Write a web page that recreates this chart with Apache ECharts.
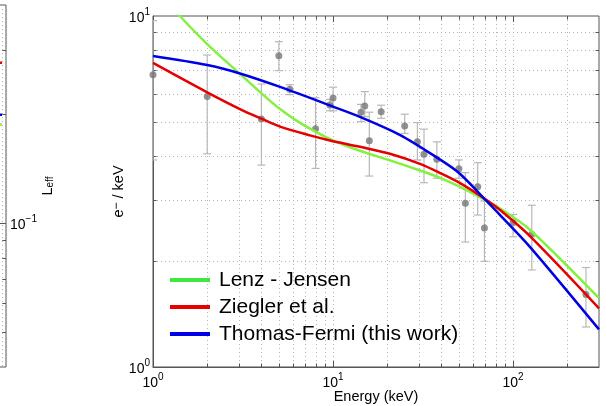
<!DOCTYPE html>
<html><head><meta charset="utf-8">
<script src="https://cdn.jsdelivr.net/npm/echarts@6/dist/echarts.min.js"></script>
<style>html,body{margin:0;padding:0;background:#fff}#c{width:606px;height:406px}</style>
</head><body><div id="c"></div>
<script>
// ---- measured data points (energy in keV, e-/keV) ----
const energyPts = [1, 2, 4, 5, 5.75, 8, 9.6, 10, 14.3, 15, 15.9, 18.5, 25, 29.4, 32, 37.7, 50, 54.3, 63.6, 69.3, 100, 127, 254];
const valuePts  = [6.8, 5.9, 5.09, 7.71, 6.18, 4.77, 5.58, 5.84, 5.32, 5.54, 4.41, 5.34, 4.86, 4.38, 4.04, 3.91, 3.67, 2.93, 3.26, 2.49, 2.58, 2.39, 1.61];
const errLow    = [3.89, 4.05, 3.76, 6.99, 5.97, 3.68, 5.37, 5.37, 5.0, 5.17, 3.50, 5.11, 4.63, 3.89, 3.35, 3.45, 3.45, 2.27, 2.71, 2.0, 2.35, 1.89, 1.30];
const errHigh   = [9.7, 7.74, 6.40, 8.45, 6.37, 5.85, 5.79, 6.27, 5.6, 6.09, 5.32, 5.57, 5.25, 4.97, 4.76, 4.38, 3.89, 3.58, 3.82, 2.97, 2.72, 2.89, 1.92];

// ---- model curves ----
const ljEnergy = [1, 1.41, 2.0, 3.04, 4.03, 5.08, 6.56, 9.62, 14.1, 20.7, 30.4, 39.3, 50.8, 69.9, 84.7, 124, 300];
const ljValue  = [12.2, 10.0, 8.32, 6.84, 6.00, 5.43, 4.96, 4.46, 4.13, 3.88, 3.63, 3.46, 3.26, 2.99, 2.83, 2.46, 1.57];
const zbEnergy = [1, 2.0, 3.04, 4.03, 5.08, 7.45, 9.62, 14.1, 20.7, 30.4, 39.3, 50.8, 69.9, 84.7, 124, 300];
const zbValue  = [7.35, 6.06, 5.43, 5.09, 4.84, 4.57, 4.42, 4.24, 4.05, 3.79, 3.57, 3.34, 3.01, 2.80, 2.36, 1.47];
const tfEnergy = [1, 2.0, 3.04, 5.08, 10, 14.1, 23.6, 37.8, 50.1, 69.9, 84.7, 124, 300];
const tfValue  = [7.69, 7.25, 6.86, 6.28, 5.52, 5.16, 4.58, 3.95, 3.57, 3.00, 2.71, 2.20, 1.28];

// ---- neighbouring (cropped) panel on the left ----
const leftX = [0.9, 1.0];
const leftRed = [0.277, 0.277];
const leftBlue = [0.199, 0.199];
const leftGreen = [0.187, 0.187];

// ---- tick / grid values ----
const xTickVals = [2,3,4,5,6,7,8,9,10,20,30,40,50,60,70,80,90,100,200];
const xMajor = [10, 100];
const yTickVals = [2,3,4,5,6,7,8,9];
const leftYTickVals = [0.05,0.06,0.07,0.08,0.09,0.1,0.2,0.3];
const leftXGrid = [1.0];

const seriesNames = ['Lenz - Jensen', 'Ziegler et al.', 'Thomas-Fermi (this work)'];
const FONT = 'Liberation Sans, Arial, Helvetica, sans-serif';
const GRIDC = '#b4b4b4';

function zip(a, b) { return a.map((v, i) => [v, b[i]]); }
function powLabel(v) {
  const l = Math.log10(v), e = Math.round(l);
  if (Math.abs(l - e) > 1e-6) return '';
  return '{b|10}{s|' + (e < 0 ? '\u2212' + (-e) : e) + '}';
}
const richLab = {
  b: {fontSize: 14, fontFamily: FONT, color: '#000', lineHeight: 18, verticalAlign: 'bottom'},
  s: {fontSize: 10, fontFamily: FONT, color: '#000', verticalAlign: 'top', lineHeight: 10}
};

const chart = echarts.init(document.getElementById('c'), null, {renderer: 'canvas'});
const option = {
  animation: false,
  backgroundColor: '#fff',
  grid: [
    {left: 153, top: 16, right: 7, bottom: 39, show: true, borderColor: '#555', borderWidth: 1, backgroundColor: 'transparent', outerBoundsMode: 'none', containLabel: false},
    {left: -394, top: 5, width: 400, bottom: 39, show: true, borderColor: '#555', borderWidth: 1, backgroundColor: 'transparent', outerBoundsMode: 'none', containLabel: false}
  ],
  legend: {
    orient: 'vertical', left: 170, top: 269, padding: 0,
    itemWidth: 40, itemHeight: 4, itemGap: 5, icon: 'rect',
    textStyle: {fontSize: 21, fontFamily: FONT, color: '#000', lineHeight: 22, padding: [0, 0, 0, 4]},
    data: [
      {name: seriesNames[0], itemStyle: {color: '#3ee83e'}},
      {name: seriesNames[1], itemStyle: {color: '#e60000'}},
      {name: seriesNames[2], itemStyle: {color: '#0000e6'}}
    ],
    selectedMode: false
  },
  xAxis: [
    {type: 'log', logBase: 10, min: 1, max: 300, gridIndex: 0,
     axisLine: {show: true, lineStyle: {color: '#555'}}, axisTick: {show: false}, splitLine: {show: false},
     axisLabel: {formatter: powLabel, margin: 5, rich: richLab, showMaxLabel: false, hideOverlap: false},
     name: 'Energy (keV)', nameLocation: 'middle', nameGap: 22, nameMoveOverlap: false,
     nameTextStyle: {fontSize: 14.5, fontFamily: FONT, color: '#000'}},
    {type: 'value', min: 0, max: 1.01, gridIndex: 1, show: false}
  ],
  yAxis: [
    {type: 'log', logBase: 10, min: 1, max: 10, gridIndex: 0,
     axisLine: {show: true, lineStyle: {color: '#555'}}, axisTick: {show: false}, splitLine: {show: false},
     axisLabel: {formatter: powLabel, margin: 3, rich: richLab, hideOverlap: false},
     name: 'e{s|\u2212} / keV', nameLocation: 'middle', nameGap: 27, nameRotate: 90, nameMoveOverlap: false,
     nameTextStyle: {fontSize: 14.5, fontFamily: FONT, color: '#000',
       rich: {s: {fontSize: 12, fontFamily: FONT, color: '#000', verticalAlign: 'top', lineHeight: 8}}}},
    {type: 'log', logBase: 10, min: 0.04, max: 0.4, gridIndex: 1, position: 'right',
     axisLine: {show: false}, axisTick: {show: false}, splitLine: {show: false},
     axisLabel: {formatter: powLabel, margin: 4, rich: richLab},
     name: 'L{sub|eff}', nameLocation: 'middle', nameGap: 34, nameRotate: 90, nameMoveOverlap: false,
     nameTextStyle: {fontSize: 14.5, fontFamily: FONT, color: '#000',
       rich: {sub: {fontSize: 10, fontFamily: FONT, color: '#000', verticalAlign: 'bottom', lineHeight: 10}}}}
  ],
  series: [
    {type: 'custom', xAxisIndex: 0, yAxisIndex: 0, silent: true, z: 1,
     data: xTickVals.map(v => [v, 1]),
     renderItem: function (params, api) {
       const cs = params.coordSys; const v = api.value(0);
       const p = api.coord([v, 1]); const x = Math.round(p[0]) + 0.5;
       const L = xMajor.indexOf(v) >= 0 ? 6 : 3.5;
       return {type: 'group', children: [
         {type: 'line', shape: {x1: x, y1: cs.y, x2: x, y2: cs.y + cs.height}, style: {stroke: GRIDC, lineWidth: 1, lineDash: [1, 3]}},
         {type: 'line', shape: {x1: x, y1: cs.y + cs.height, x2: x, y2: cs.y + cs.height - L}, style: {stroke: '#555', lineWidth: 1}},
         {type: 'line', shape: {x1: x, y1: cs.y, x2: x, y2: cs.y + L}, style: {stroke: '#555', lineWidth: 1}}
       ]};
     }},
    {type: 'custom', xAxisIndex: 0, yAxisIndex: 0, silent: true, z: 1,
     data: yTickVals.map(v => [1, v]),
     renderItem: function (params, api) {
       const cs = params.coordSys; const v = api.value(1);
       const p = api.coord([1, v]); const y = Math.round(p[1]) + 0.5;
       const L = 3.5;
       return {type: 'group', children: [
         {type: 'line', shape: {x1: cs.x, y1: y, x2: cs.x + cs.width, y2: y}, style: {stroke: GRIDC, lineWidth: 1, lineDash: [1, 3]}},
         {type: 'line', shape: {x1: cs.x, y1: y, x2: cs.x + L, y2: y}, style: {stroke: '#555', lineWidth: 1}},
         {type: 'line', shape: {x1: cs.x + cs.width, y1: y, x2: cs.x + cs.width - L, y2: y}, style: {stroke: '#555', lineWidth: 1}}
       ]};
     }},
    {type: 'custom', xAxisIndex: 1, yAxisIndex: 1, silent: true, z: 1,
     data: leftYTickVals.map(v => [0.5, v]),
     renderItem: function (params, api) {
       const cs = params.coordSys; const v = api.value(1);
       const p = api.coord([0.5, v]); const y = Math.round(p[1]) + 0.5;
       const L = Math.abs(Math.log10(v) - Math.round(Math.log10(v))) < 1e-6 ? 6 : 3.5;
       return {type: 'group', children: [
         {type: 'line', shape: {x1: cs.x, y1: y, x2: cs.x + cs.width, y2: y}, style: {stroke: GRIDC, lineWidth: 1, lineDash: [1, 3]}},
         {type: 'line', shape: {x1: cs.x + cs.width, y1: y, x2: cs.x + cs.width - L, y2: y}, style: {stroke: '#555', lineWidth: 1}}
       ]};
     }},
    {type: 'custom', xAxisIndex: 1, yAxisIndex: 1, silent: true, z: 1,
     data: leftXGrid.map(v => [v, 0.1]),
     renderItem: function (params, api) {
       const cs = params.coordSys; const p = api.coord([api.value(0), 0.1]);
       const x = Math.round(p[0]) + 0.5;
       return {type: 'line', shape: {x1: x, y1: cs.y, x2: x, y2: cs.y + cs.height}, style: {stroke: GRIDC, lineWidth: 1, lineDash: [1, 3]}};
     }},
    {type: 'custom', xAxisIndex: 0, yAxisIndex: 0, silent: true, z: 2, clip: true,
     data: energyPts.map((e, i) => [e, errLow[i], errHigh[i]]),
     encode: {x: 0, y: [1, 2]},
     renderItem: function (params, api) {
       const lo = api.coord([api.value(0), api.value(1)]);
       const hi = api.coord([api.value(0), api.value(2)]);
       const cw = 4; const st = {stroke: '#b8b8b8', lineWidth: 1.2};
       return {type: 'group', children: [
         {type: 'line', shape: {x1: lo[0], y1: lo[1], x2: hi[0], y2: hi[1]}, style: st},
         {type: 'line', shape: {x1: lo[0] - cw, y1: lo[1], x2: lo[0] + cw, y2: lo[1]}, style: st},
         {type: 'line', shape: {x1: hi[0] - cw, y1: hi[1], x2: hi[0] + cw, y2: hi[1]}, style: st}
       ]};
     }},
    {type: 'scatter', xAxisIndex: 0, yAxisIndex: 0, z: 3, symbol: 'circle', symbolSize: 7,
     itemStyle: {color: '#777'}, data: zip(energyPts, valuePts), silent: true},
    {name: seriesNames[0], type: 'line', xAxisIndex: 0, yAxisIndex: 0, z: 4, data: zip(ljEnergy, ljValue),
     showSymbol: false, symbol: 'none', smooth: 0.3, clip: true, lineStyle: {color: '#84f040', width: 2.5}, itemStyle: {color: '#84f040'}},
    {name: seriesNames[1], type: 'line', xAxisIndex: 0, yAxisIndex: 0, z: 4, data: zip(zbEnergy, zbValue),
     showSymbol: false, symbol: 'none', smooth: 0.3, clip: true, lineStyle: {color: '#e60000', width: 2.5}, itemStyle: {color: '#e60000'}},
    {name: seriesNames[2], type: 'line', xAxisIndex: 0, yAxisIndex: 0, z: 4, data: zip(tfEnergy, tfValue),
     showSymbol: false, symbol: 'none', smooth: 0.3, clip: true, lineStyle: {color: '#0000e6', width: 2.5}, itemStyle: {color: '#0000e6'}},
    {type: 'line', xAxisIndex: 1, yAxisIndex: 1, data: zip(leftX, leftRed), symbol: 'none', lineStyle: {color: '#e60000', width: 2.5}, silent: true},
    {type: 'line', xAxisIndex: 1, yAxisIndex: 1, data: zip(leftX, leftBlue), symbol: 'none', lineStyle: {color: '#0000e6', width: 2.5}, silent: true},
    {type: 'line', xAxisIndex: 1, yAxisIndex: 1, data: zip(leftX, leftGreen), symbol: 'none', lineStyle: {color: '#84f040', width: 2.5}, silent: true}
  ]
};
chart.setOption(option);
</script>
</body></html>
